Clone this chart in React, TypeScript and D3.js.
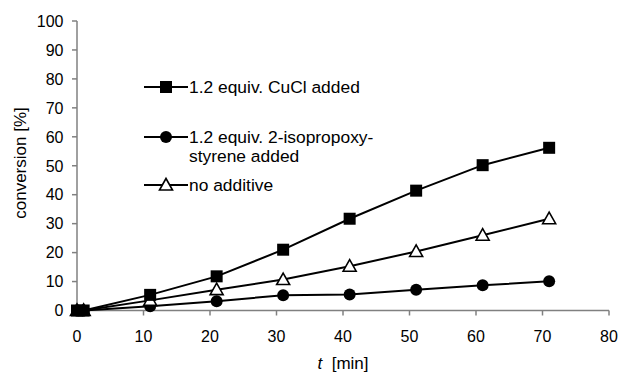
import React, { useEffect, useRef } from "react";
import * as d3 from "d3";

const times = [0, 1, 11, 21, 31, 41, 51, 61, 71];
const cuclAdded = [0, 0, 5.4, 11.8, 21, 31.7, 41.4, 50.2, 56.2];
const styreneAdded = [0, 0, 1.5, 3.2, 5.3, 5.5, 7.2, 8.7, 10.1];
const noAdditive = [0, 0, 3.5, 7.2, 10.7, 15.3, 20.4, 26, 31.7];
const xTicks = [0, 10, 20, 30, 40, 50, 60, 70, 80];
const yTicks = [0, 10, 20, 30, 40, 50, 60, 70, 80, 90, 100];

type Marker = "square" | "circle" | "triangle";

const series: { label: string[]; values: number[]; marker: Marker }[] = [
  { label: ["1.2 equiv. CuCl added"], values: cuclAdded, marker: "square" },
  { label: ["1.2 equiv. 2-isopropoxy-", "styrene added"], values: styreneAdded, marker: "circle" },
  { label: ["no additive"], values: noAdditive, marker: "triangle" },
];

const W = 621;
const H = 374;
const FONT = "'Liberation Sans', Arial, sans-serif";

export default function App() {
  const svgRef = useRef<SVGSVGElement | null>(null);

  useEffect(() => {
    const svg = d3.select(svgRef.current);
    svg.selectAll("*").remove();

    const x = d3.scaleLinear().domain([0, 80]).range([77, 609]);
    const y = d3.scaleLinear().domain([0, 100]).range([310.5, 21]);

    const axisColor = "#808080";

    // y axis
    svg.append("line")
      .attr("x1", x(0)).attr("x2", x(0))
      .attr("y1", y(0)).attr("y2", y(100))
      .attr("stroke", axisColor).attr("stroke-width", 1.5);
    yTicks.forEach((t) => {
      svg.append("line")
        .attr("x1", x(0) - 5).attr("x2", x(0))
        .attr("y1", y(t)).attr("y2", y(t))
        .attr("stroke", axisColor).attr("stroke-width", 1.5);
      svg.append("text")
        .attr("x", 63.5).attr("y", y(t))
        .attr("dy", "0.36em")
        .attr("text-anchor", "end")
        .attr("font-family", FONT).attr("font-size", 16)
        .text(t);
    });

    // x axis
    svg.append("line")
      .attr("x1", x(0)).attr("x2", x(80))
      .attr("y1", y(0)).attr("y2", y(0))
      .attr("stroke", axisColor).attr("stroke-width", 1.5);
    xTicks.forEach((t) => {
      svg.append("line")
        .attr("x1", x(t)).attr("x2", x(t))
        .attr("y1", y(0)).attr("y2", y(0) + 5)
        .attr("stroke", axisColor).attr("stroke-width", 1.5);
      svg.append("text")
        .attr("x", x(t)).attr("y", 342)
        .attr("text-anchor", "middle")
        .attr("font-family", FONT).attr("font-size", 16)
        .text(t);
    });

    // axis titles
    svg.append("text")
      .attr("transform", `translate(26,163) rotate(-90)`)
      .attr("text-anchor", "middle")
      .attr("font-family", FONT).attr("font-size", 17)
      .text("conversion [%]");

    const xt = svg.append("text")
      .attr("x", 343).attr("y", 369)
      .attr("text-anchor", "middle")
      .attr("font-family", FONT).attr("font-size", 17);
    xt.append("tspan").attr("font-style", "italic").text("t");
    xt.append("tspan").text("\u00a0 [min]");

    const drawMarker = (g: d3.Selection<SVGGElement, unknown, null, undefined>, m: Marker, cx: number, cy: number) => {
      if (m === "square") {
        g.append("rect")
          .attr("x", cx - 6).attr("y", cy - 6)
          .attr("width", 12).attr("height", 12)
          .attr("fill", "#000");
      } else if (m === "circle") {
        g.append("circle")
          .attr("cx", cx).attr("cy", cy).attr("r", 6)
          .attr("fill", "#000");
      } else {
        g.append("path")
          .attr("d", `M${cx},${cy - 6.5}L${cx + 6.5},${cy + 5}L${cx - 6.5},${cy + 5}Z`)
          .attr("fill", "#fff").attr("stroke", "#000").attr("stroke-width", 1.6);
      }
    };

    const line = d3.line<[number, number]>()
      .x((d) => x(d[0]))
      .y((d) => y(d[1]));

    // circle series first, then triangle, square on top
    [1, 2, 0].forEach((i) => {
      const s = series[i];
      const pts = times.map((t, j) => [t, s.values[j]] as [number, number]);
      const g = svg.append("g");
      g.append("path")
        .datum(pts)
        .attr("d", line)
        .attr("fill", "none")
        .attr("stroke", "#000")
        .attr("stroke-width", 2);
      pts.forEach((p) => drawMarker(g, s.marker, x(p[0]), y(p[1])));
    });

    // legend
    const rows = [87, 137, 185];
    series.forEach((s, i) => {
      const g = svg.append("g");
      const ry = rows[i];
      g.append("line")
        .attr("x1", 144).attr("x2", 188)
        .attr("y1", ry).attr("y2", ry)
        .attr("stroke", "#000").attr("stroke-width", 2);
      drawMarker(g, s.marker, 166, ry);
      s.label.forEach((l, k) => {
        g.append("text")
          .attr("x", 189).attr("y", ry + k * 19)
          .attr("dy", "0.36em")
          .attr("font-family", FONT).attr("font-size", 17.4)
          .text(l);
      });
    });
  }, []);

  return (
    <svg
      ref={svgRef}
      width={W}
      height={H}
      style={{ position: "absolute", left: 0, top: 0, background: "#fff" }}
    />
  );
}
